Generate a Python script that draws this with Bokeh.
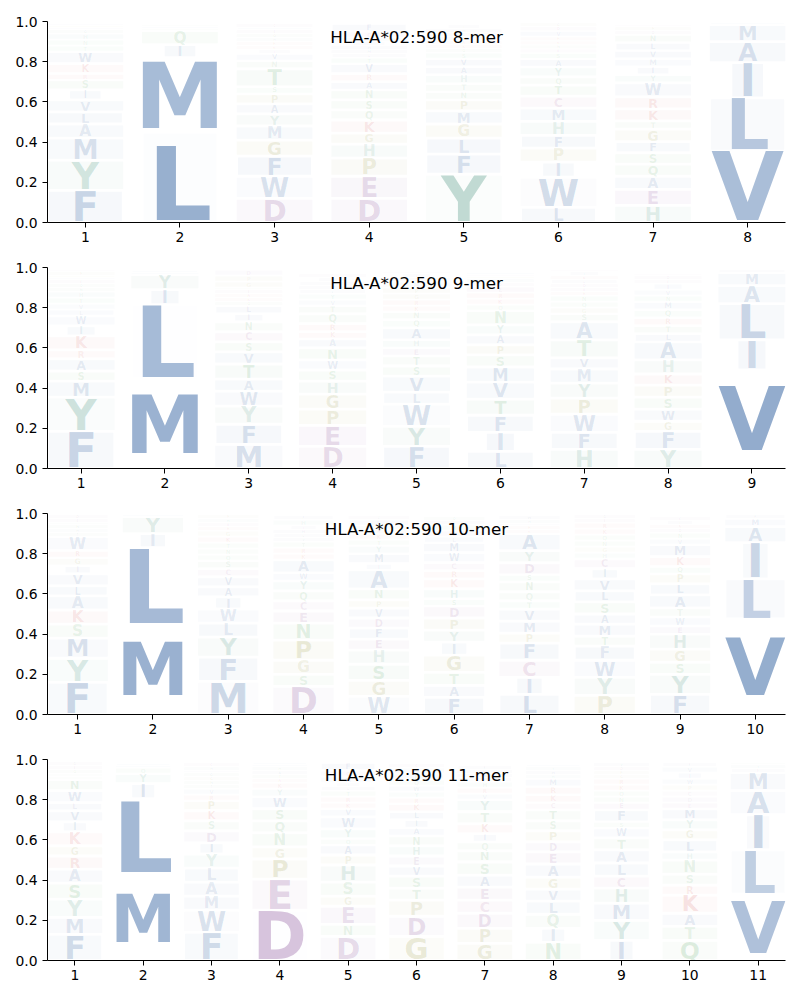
from bokeh.plotting import figure
from bokeh.layouts import column
from bokeh.models import ColumnDataSource, Label, FixedTicker, PrintfTickFormatter
from bokeh.core.properties import value, field
from bokeh.embed import file_html
from bokeh.resources import INLINE

allele = "HLA-A*02:590"
mer_lengths = [8, 9, 10, 11]

# ---- letters (bottom -> top) and heights per position ----
mer8_letters = [
    "FYMALVISRKWTNHQEPD",
    "LMIQSVTA",
    "DWFGMYAPSTNVIKRHQELC",
    "DEPHGKQSNARVTLMWIYCF",
    "YFLGMPNTHAVSQKREDWI",
    "LWIPFHMCTQYASENKRVDG",
    "HEAQSFGTKRWYIMVLNDPC",
    "VLIAMF",
]
mer8_heights = [
    [.16, .15, .11, .07, .06, .06, .05, .05, .03, .05, .06, .03, .03, .03, .02, .01, .01, .01],
    [.45, .37, .065, .07, .01, .01, .01, .005],
    [.12, .11, .10, .08, .07, .06, .05, .05, .035, .09, .04, .035, .02, .02, .02, .02, .02, .02, .01, .02],
    [.12, .11, .09, .07, .055, .065, .05, .05, .05, .04, .04, .05, .03, .02, .02, .02, .02, .02, .03, .04],
    [.24, .10, .08, .07, .065, .055, .04, .04, .045, .04, .04, .03, .02, .02, .02, .02, .02, .02, .02],
    [.075, .15, .075, .07, .063, .07, .066, .06, .055, .04, .05, .04, .03, .02, .02, .02, .02, .03, .02, .02],
    [.085, .08, .065, .06, .057, .055, .063, .04, .06, .06, .07, .04, .04, .04, .04, .04, .04, .02, .02, .01],
    [.355, .265, .175, .105, .085, .01],
]

mer9_letters = [
    "FYMSARKIWLVTHNQEDGPC",
    "MLIYVF",
    "MFYWATVSCNILQKREHGPD",
    "DEPGHSWNAKRQTVYLMFIC",
    "FYWLVSTEHAQNKRGPMDIC",
    "LIFTVMSPAYNQKREDHGCW",
    "HFWPYMVTASGQNREDLKIC",
    "YFGWSPKHALTRQMNVIEDC",
    "VILAMF",
]
mer9_heights = [
    [.185, .17, .08, .05, .06, .045, .07, .05, .05, .03, .03, .03, .03, .02, .02, .02, .01, .01, .02, .01],
    [.445, .37, .075, .075, .01, .01],
    [.12, .10, .09, .075, .06, .075, .06, .05, .05, .05, .04, .04, .02, .02, .02, .02, .01, .03, .03, .03],
    [.11, .105, .08, .075, .065, .055, .05, .06, .045, .035, .04, .05, .04, .03, .03, .02, .02, .02, .02, .02],
    [.11, .10, .11, .06, .08, .05, .05, .04, .04, .06, .04, .04, .03, .03, .03, .03, .03, .02, .02, .01],
    [.085, .095, .085, .08, .085, .075, .06, .05, .05, .05, .07, .03, .03, .03, .03, .02, .02, .01, .01, .01],
    [.095, .085, .09, .08, .075, .07, .055, .09, .09, .04, .03, .03, .03, .02, .02, .02, .02, .02, .02, .01],
    [.095, .09, .05, .06, .06, .06, .055, .07, .09, .04, .04, .04, .04, .04, .03, .03, .03, .02, .02, .01],
    [.49, .15, .18, .09, .065, .015],
]

mer10_letters = [
    "FYMSKALVIGRWTHNQED",
    "MLIYV",
    "MFYLWIAVCSQNTKGREHP",
    "DSGPNECQYWAKRTVLMIHF",
    "WGSHEFDVPNAIMYTKRQLC",
    "FATGIYPDSHKRCWMLENVQ",
    "LICFPMVTQNSDYAKREHW",
    "PYWFTMASLVICHGNQKRED",
    "FYSGHEWTALPQKMVNDRIC",
    "VLIAMF",
]
mer10_heights = [
    [.16, .12, .10, .07, .07, .07, .05, .06, .04, .04, .035, .07, .02, .02, .02, .01, .02, .02],
    [.45, .38, .07, .085, .01],
    [.165, .12, .10, .07, .07, .06, .05, .05, .04, .04, .03, .03, .03, .03, .03, .02, .02, .02, .02],
    [.14, .06, .07, .10, .085, .06, .05, .05, .05, .04, .065, .03, .03, .03, .02, .02, .02, .02, .03, .02],
    [.09, .08, .08, .07, .055, .055, .05, .05, .04, .055, .095, .03, .05, .04, .03, .03, .02, .02, .03, .02],
    [.085, .06, .065, .085, .065, .06, .06, .06, .035, .05, .05, .04, .04, .05, .05, .03, .03, .03, .02, .02],
    [.10, .085, .085, .085, .05, .06, .06, .04, .045, .05, .035, .06, .06, .085, .02, .02, .01, .02, .02],
    [.095, .09, .085, .07, .05, .06, .05, .06, .055, .06, .05, .05, .03, .03, .03, .03, .03, .03, .02, .02],
    [.10, .10, .06, .065, .075, .04, .045, .045, .065, .055, .05, .035, .05, .06, .03, .03, .02, .02, .02, .02],
    [.475, .20, .18, .08, .04, .02],
]

mer11_letters = [
    "FMYSARGKIVLWNHTQED",
    "MLIYQVF",
    "FWMALYIDSKPRVTNGQEHC",
    "DEPGNQSWYKRTAHVL",
    "DNEGSHPAQYWVKRTLIMCF",
    "GDPTSVEHNAILKRYWQFMC",
    "GPDCEASNQIKTYVRHLWMF",
    "NIQLVGAEDPSTCKRMHWYF",
    "IYMHCLATWSFENQKRGPDV",
    "QTAKRSNHLGYMEDCPWIVF",
    "VLIAMFYT",
]
mer11_heights = [
    [.13, .085, .09, .08, .07, .065, .05, .07, .05, .055, .04, .06, .055, .015, .015, .02, .02, .02],
    [.415, .39, .075, .05, .03, .01, .01],
    [.14, .11, .07, .07, .07, .07, .055, .06, .05, .05, .05, .03, .03, .02, .02, .02, .02, .01, .02, .02],
    [.25, .155, .10, .06, .07, .06, .06, .06, .04, .03, .02, .02, .02, .02, .01, .01],
    [.12, .06, .09, .05, .07, .085, .05, .05, .03, .05, .06, .04, .03, .03, .03, .02, .02, .03, .03, .04],
    [.12, .10, .08, .06, .06, .05, .05, .05, .05, .04, .04, .04, .04, .03, .03, .03, .03, .03, .03, .02],
    [.085, .075, .075, .065, .065, .06, .065, .055, .045, .04, .05, .06, .06, .03, .03, .03, .02, .02, .02, .02],
    [.09, .07, .07, .065, .06, .06, .065, .06, .05, .055, .05, .055, .035, .04, .04, .04, .02, .02, .02, .01],
    [.10, .10, .085, .075, .06, .065, .065, .06, .05, .03, .06, .035, .03, .03, .03, .03, .02, .02, .02, .02],
    [.10, .07, .065, .09, .05, .055, .07, .04, .06, .05, .05, .055, .03, .03, .03, .03, .03, .03, .03, .02],
    [.33, .22, .175, .12, .09, .02, .02, .01],
]

panels = [
    (mer8_letters, mer8_heights),
    (mer9_letters, mer9_heights),
    (mer10_letters, mer10_heights),
    (mer11_letters, mer11_heights),
]

# ---- style ----
BLUE, TEAL, PURPLE, PINK = "#26589b", "#32876f", "#7d3e8e", "#9b4d8c"
OLIVE, GREEN, RED = "#8a8a2a", "#3a9a4a", "#cc3a3a"
COLORS = {
    "A": BLUE, "F": BLUE, "I": BLUE, "L": BLUE, "M": BLUE, "V": BLUE, "W": BLUE,
    "Y": TEAL, "H": TEAL, "D": PURPLE, "E": PURPLE, "C": PINK,
    "G": OLIVE, "P": OLIVE, "S": GREEN, "T": GREEN, "N": GREEN, "Q": GREEN,
    "K": RED, "R": RED,
}
# approximate ink widths (em) of DejaVu Sans Bold capitals
INK = {
    "A": .77, "C": .63, "D": .72, "E": .57, "F": .55, "G": .70, "H": .66, "I": .23,
    "K": .73, "L": .55, "M": .83, "N": .66, "P": .62, "Q": .76, "R": .70, "S": .62,
    "T": .68, "V": .77, "W": 1.09, "Y": .73,
}
CAP = 0.729          # cap height / em
MID = 0.352          # offset of the text box middle above the baseline / em
DESC = 0.24          # descent / em
FRAME_W, FRAME_H = 738, 201
BORDER_BOTTOM = 24
PAD = 0.014
FONT = "DejaVu Sans"


def size_str(fs):
    # avoid sizes such as "300.5px" that a font parser can take for a weight
    if fs >= 100 and int(fs) % 100 == 0:
        fs += 1.0
    return f"{fs:.2f}px"


figs = []
for k, (letters, heights) in enumerate(panels):
    n = len(letters)
    x0, x1 = 0.6, n + 0.4
    xscale = FRAME_W / (x1 - x0)
    yscale = FRAME_H / 1.0
    target = 0.8 * xscale

    T = dict(x=[], y=[], t=[], c=[], a=[], fs=[])
    B = dict(x=[], y=[], w=[], h=[], c=[], a=[])
    for i, (lets, hs) in enumerate(zip(letters, heights)):
        xc = i + 1
        y0 = 0.0
        for ch, h in zip(lets, hs):
            pad = min(PAD, 0.3 * h)
            gh = h - pad
            ink = max(INK[ch], INK["E"])
            fs_h = gh * yscale / CAP
            fs_w = target / ink
            fs = min(fs_h, fs_w)
            # keep the text box inside the canvas at the bottom edge
            fs_b = ((y0 + pad / 2) * yscale + BORDER_BOTTOM - 1) / DESC
            fs_draw = min(fs, fs_b)
            alpha = min(1.0, 0.85 * h ** 0.75)
            cap_units = fs_draw * CAP / yscale
            base = y0 + pad / 2 + (gh - cap_units) / 2 if fs_draw == fs else y0 + pad / 2
            T["x"].append(xc); T["y"].append(base + MID * fs_draw / yscale); T["t"].append(ch)
            T["c"].append(COLORS[ch]); T["a"].append(alpha); T["fs"].append(size_str(fs_draw))
            if fs_h < fs_w:
                r = fs_draw / fs_w
                B["x"].append(xc); B["y"].append(y0 + pad / 2 + gh / 2)
                B["w"].append(INK[ch] * fs_w / xscale); B["h"].append(gh)
                B["c"].append(COLORS[ch]); B["a"].append(alpha * 0.4 * (1 - r) ** 2)
            y0 += h

    p = figure(frame_width=FRAME_W, frame_height=FRAME_H, x_range=(x0, x1), y_range=(0, 1),
               output_backend="svg", toolbar_location=None,
               min_border_left=47, min_border_right=15, min_border_top=21,
               min_border_bottom=BORDER_BOTTOM)
    p.outline_line_color = None
    p.xgrid.visible = False
    p.ygrid.visible = False
    p.background_fill_color = "white"
    p.border_fill_color = "white"

    p.rect(x="x", y="y", width="w", height="h", fill_color="c", fill_alpha="a",
           line_color=None, source=ColumnDataSource(B))
    p.text(x="x", y="y", text="t", text_color="c", text_alpha="a",
           text_font_size=field("fs"), text_font=value(FONT), text_font_style="bold",
           text_align="center", text_baseline="middle", source=ColumnDataSource(T))

    p.xaxis.ticker = FixedTicker(ticks=list(range(1, n + 1)))
    p.yaxis.ticker = FixedTicker(ticks=[0, 0.2, 0.4, 0.6, 0.8, 1.0])
    p.yaxis.formatter = PrintfTickFormatter(format="%.1f")
    for ax in (p.xaxis, p.yaxis):
        ax.axis_line_color = "black"
        ax.axis_line_width = 1
        ax.major_tick_line_color = "black"
        ax.major_tick_in = 0
        ax.major_tick_out = 5
        ax.minor_tick_line_color = None
        ax.major_label_text_font = FONT
        ax.major_label_text_font_size = "13.9px"
        ax.major_label_text_color = "black"
    p.xaxis.major_label_standoff = 4
    p.yaxis.major_label_standoff = 5

    p.add_layout(Label(x=(x0 + x1) / 2, y=0.925, text=f"{allele} {mer_lengths[k]}-mer",
                       text_align="center", text_baseline="middle",
                       text_font=FONT, text_font_size="16.7px", text_color="black"))
    figs.append(p)

layout = column(*figs, spacing=0)
open("out.html", "w").write(file_html(layout, INLINE))
